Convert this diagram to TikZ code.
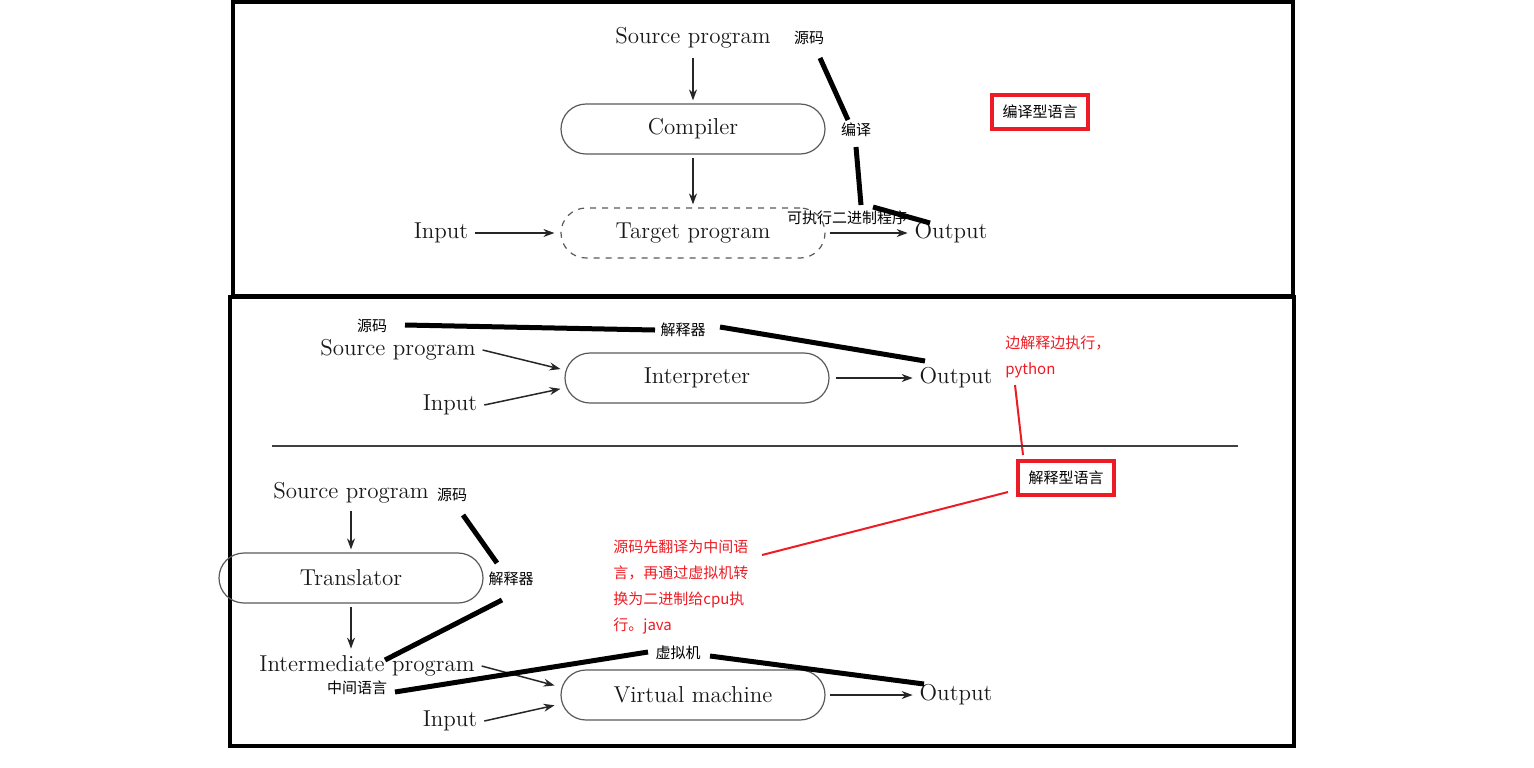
\documentclass[tikz,border=0pt]{standalone}
\usepackage{fontspec}
\usepackage{tikz}
\usetikzlibrary{positioning,arrows.meta}
\newfontfamily\cjk{Noto Sans CJK SC}
\definecolor{boxline}{gray}{0.35}
\definecolor{notered}{RGB}{237,28,36}

\begin{document}
\begin{tikzpicture}[x=0.5pt,y=-0.5pt,>={Stealth[length=5.5pt,width=4pt]},
  every node/.style={font=\fontsize{11.5}{13}\selectfont,text=black!90},
  prog/.style={draw=boxline,line width=0.6pt,rounded corners=12.5pt,minimum width=132pt,minimum height=25pt},
  note/.style={font=\cjk\fontsize{7.5}{13}\selectfont,text=black,inner sep=1pt},
  rednote/.style={font=\cjk\fontsize{7.5}{13}\selectfont,text=notered,align=left,inner sep=0pt},
  tag/.style={draw=notered,line width=2pt,font=\cjk\fontsize{7.5}{9}\selectfont,text=black,minimum width=48pt,minimum height=17pt},
  flow/.style={->,line width=0.75pt,black!85},
  pen/.style={line width=2.5pt,black},
  redpen/.style={line width=1pt,notered}]
  \useasboundingbox (0,0) rectangle (1534,767);
  % frames
  \draw[line width=2pt] (233,2) rectangle (1293,296);
  \draw[line width=2pt] (230,297) rectangle (1294,746);

  % compiler
  \node (src1) at (693,38) {Source program};
  \node[prog] (comp) at (693,129) {Compiler};
  \node[prog,dashed] (tgt) at (693,233) {Target program};
  \node (in1) at (441,233) {Input};
  \node (out1) at (951,233) {Output};
  \draw[flow,shorten <=1pt,shorten >=1.5pt] (src1) -- (comp);
  \draw[flow,shorten <=1.5pt,shorten >=1.5pt] (comp) -- (tgt);
  \draw[flow,shorten >=3pt] (in1) -- (tgt);
  \draw[flow,shorten <=2pt] (tgt) -- (out1);

  \node[note] (ym1) at (809,38) {源码};
  \node[note] (by) at (856,130) {编译};
  \node[note] (exe) at (847,218) {可执行二进制程序};
  \node[tag] (compiled) at (1040,112) {编译型语言};
  \coordinate (p1) at (820,58);
  \coordinate (p2) at (848,120);
  \coordinate (p3) at (856,147);
  \coordinate (p4) at (861,205);
  \coordinate (p5) at (873,207);
  \coordinate (p6) at (930,223);
  \draw[pen] (p1) -- (p2);
  \draw[pen] (p3) -- (p4);
  \draw[pen] (p5) -- (p6);

  % interpreter
  \node (src2) at (398,350) {Source program};
  \node (in2) at (450,405) {Input};
  \node[prog] (interp) at (697,378) {Interpreter};
  \node (out2) at (956,378) {Output};
  \draw[flow,shorten >=2pt] (src2.east) -- ([yshift=4pt]interp.west);
  \draw[flow,shorten >=2pt] (in2.east) -- ([yshift=-5pt]interp.west);
  \draw[flow,shorten <=3pt] (interp) -- (out2);

  \node[note] (ym2) at (372,326) {源码};
  \node[note] (jsq1) at (683,330) {解释器};
  \coordinate (q1) at (405,325);
  \coordinate (q2) at (655,330);
  \coordinate (q3) at (720,327);
  \coordinate (q4) at (925,361);
  \draw[pen] (q1) -- (q2);
  \draw[pen] (q3) -- (q4);

  \node[rednote,anchor=west] (py) at (1005,357) {边解释边执行，\\python};
  \node[tag] (interpreted) at (1066,478) {解释型语言};
  \coordinate (r1) at (1015,385);
  \coordinate (r2) at (1023,455);
  \coordinate (r3) at (1008,492);
  \coordinate (r4) at (762,555);
  \draw[redpen] (r1) -- (r2);
  \draw[redpen] (r3) -- (r4);

  \coordinate (sepl) at (272,446);
  \coordinate (sepr) at (1238,446);
  \draw[line width=0.75pt,black!75] (sepl) -- (sepr);

  % virtual machine
  \node (src3) at (351,493) {Source program};
  \node[prog] (trans) at (351,578) {Translator};
  \node (mid) at (367,666) {Intermediate program};
  \node[prog] (vm) at (693,695) {Virtual machine};
  \node (in3) at (450,721) {Input};
  \node (out3) at (956,695) {Output};
  \draw[flow,shorten >=1.5pt] (src3) -- (trans);
  \draw[flow,shorten <=1.5pt] (trans.south) -- (trans.south |- mid.north);
  \draw[flow,shorten >=3pt] (mid.east) -- ([yshift=4pt]vm.west);
  \draw[flow,shorten >=3pt] (in3.east) -- ([yshift=-4.5pt]vm.west);
  \draw[flow,shorten <=2pt] (vm) -- (out3);

  \node[note] (ym3) at (452,495) {源码};
  \node[note] (jsq2) at (511,579) {解释器};
  \node[note] (zj) at (357,688) {中间语言};
  \node[note] (xnj) at (678,653) {虚拟机};
  \node[rednote,anchor=north west] (jv) at (613,539)
    {源码先翻译为中间语\\言，再通过虚拟机转\\换为二进制给cpu执\\行。java};
  \coordinate (s1) at (463,515);
  \coordinate (s2) at (497,563);
  \coordinate (s3) at (502,600);
  \coordinate (s4) at (385,660);
  \coordinate (s5) at (395,692);
  \coordinate (s6) at (648,652);
  \coordinate (s7) at (710,656);
  \coordinate (s8) at (924,684);
  \draw[pen] (s1) -- (s2);
  \draw[pen] (s3) -- (s4);
  \draw[pen] (s5) -- (s6);
  \draw[pen] (s7) -- (s8);
\end{tikzpicture}
\end{document}
